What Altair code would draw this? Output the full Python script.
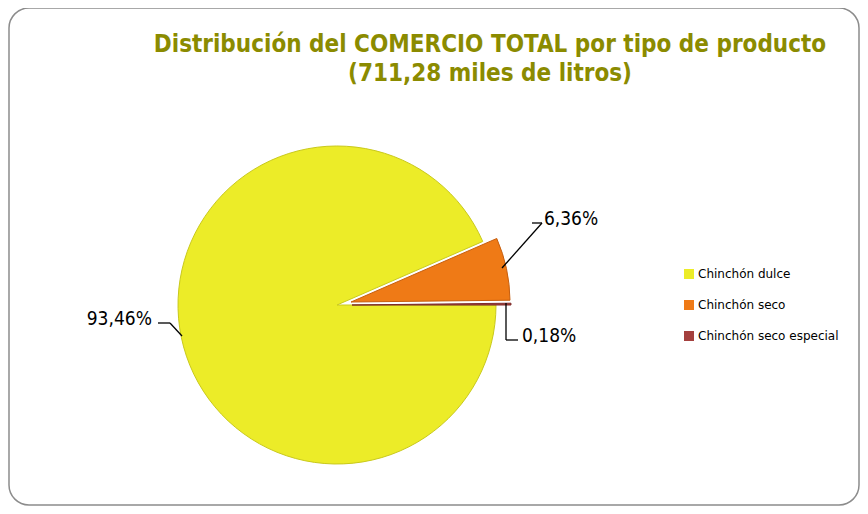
import math
import altair as alt
import pandas as pd

# ---- data ----
categories = ["Chinchón dulce", "Chinchón seco", "Chinchón seco especial"]
shares = [93.46, 6.36, 0.18]
colors = ["#ECEC28", "#EF7A16", "#A4403E"]
title_lines = ["Distribución del COMERCIO TOTAL por tipo de producto",
               "(711,28 miles de litros)"]

df = pd.DataFrame({"cat": categories, "share": shares, "order": list(range(len(categories)))})

PAD_TOP = 100
W, H = 852, 398
R = 159
theta_scale = alt.Scale(domain=[0, 100], range=[math.pi / 2, math.pi / 2 + 2 * math.pi])
color_scale = alt.Scale(domain=categories, range=colors)

# slice centres (pie centre + explosion), view coordinates
centres = {
    "Chinchón dulce": (329, 197),
    "Chinchón seco": (343, 194),
    "Chinchón seco especial": (344, 197),
}
strokes = {"Chinchón dulce": "#C9C91C", "Chinchón seco": "#C65E0E", "Chinchón seco especial": "#7E2C2A"}


def base():
    return (
        alt.Chart(df)
        .transform_window(cum="sum(share)", sort=[alt.SortField("order")], frame=[None, 0])
        .transform_calculate(start="datum.cum - datum.share",
                             mid="datum.cum - datum.share / 2",
                             label="replace(format(datum.share, '.2f'), '.', ',') + '%'")
    )


layers = []

# chart border (rounded frame)
border = alt.Chart(alt.Data(values=[{}])).mark_rect(
    cornerRadius=20, fillOpacity=0, stroke="#8C8C8C", strokeWidth=1.5
).encode(x=alt.value(1), x2=alt.value(851), y=alt.value(-PAD_TOP), y2=alt.value(397))
layers.append(border)

# title (two lines)
title_y = [-56, -27]
for line, ty in zip(title_lines, title_y):
    layers.append(
        alt.Chart(alt.Data(values=[{}])).mark_text(
            font="DejaVu Sans Condensed", fontSize=24, fontWeight="bold",
            color="#8B8B00", align="center", baseline="alphabetic",
        ).encode(text=alt.value(line), x=alt.value(482), y=alt.value(ty))
    )

for i, c in enumerate(categories):
    cx, cy = centres[c]
    arc = (
        base()
        .transform_filter(alt.datum.cat == c)
        .mark_arc(outerRadius=R, stroke=strokes[c], strokeWidth=1)
        .encode(
            theta=alt.Theta("start:Q", scale=theta_scale),
            theta2="cum:Q",
            color=alt.Color(
                "cat:N", scale=color_scale, sort=categories,
                legend=alt.Legend(
                    title=None, orient="none", legendX=675, legendY=160,
                    symbolType="square", symbolSize=100, symbolStrokeWidth=0,
                    labelFont="DejaVu Sans", labelFontSize=12, labelColor="#000000",
                    rowPadding=19, labelOffset=3, padding=0,
                ),
            ),
            x=alt.value(cx),
            y=alt.value(cy),
        )
    )
    layers.append(arc)

# labels: (radius, dx, dy, align)
label_pos = {
    "Chinchón dulce": (185, -4, -18, "right"),
    "Chinchón seco": (185, 12, -38, "left"),
    "Chinchón seco especial": (165, 5, 38, "left"),
}
for c in categories:
    cx, cy = centres[c]
    r, dx, dy, al = label_pos[c]
    txt = (
        base()
        .transform_filter(alt.datum.cat == c)
        .mark_text(radius=r, dx=dx, dy=dy, align=al, baseline="alphabetic",
                   font="DejaVu Sans Condensed", fontSize=19, color="#000000")
        .encode(theta=alt.Theta("mid:Q", scale=theta_scale), text="label:N",
                x=alt.value(cx), y=alt.value(cy))
    )
    layers.append(txt)

# leader lines (decoration)
leaders = [
    (150, 215, 162, 215), (162, 215, 174, 228),
    (524, 115, 534, 115), (534, 115, 494, 160),
    (498, 195, 498, 232), (498, 232, 510, 232),
]
for x1, y1, x2, y2 in leaders:
    layers.append(
        alt.Chart(alt.Data(values=[{}])).mark_rule(color="#000000", strokeWidth=1.3)
        .encode(x=alt.value(x1), y=alt.value(y1), x2=alt.value(x2), y2=alt.value(y2))
    )

chart = (
    alt.layer(*layers)
    .properties(
        width=W, height=H,
        autosize=alt.AutoSizeParams(type="none"),
        padding={"top": PAD_TOP, "left": 0, "right": 0, "bottom": 0},
    )
    .configure_view(stroke=None)
)

chart.save("out.html", embed_options={"renderer": "svg", "actions": False})
